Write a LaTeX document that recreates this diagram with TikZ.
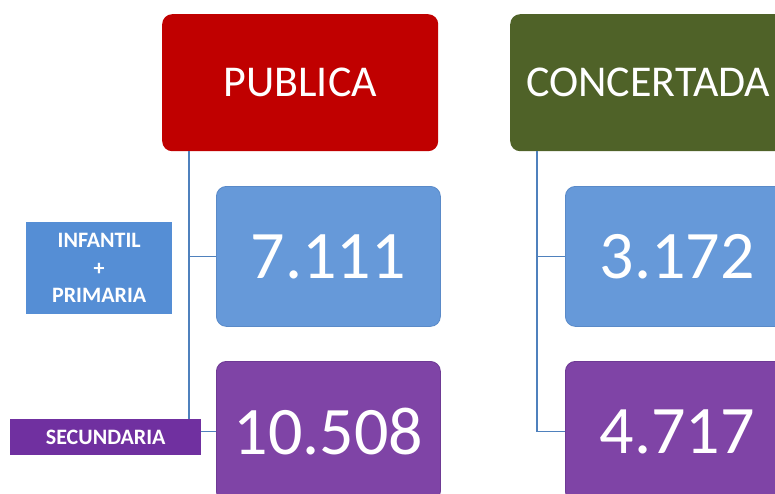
\documentclass[tikz,border=0pt]{standalone}
\usepackage{fontspec}
\setmainfont{Carlito}
\definecolor{pubred}{HTML}{C00000}
\definecolor{congreen}{HTML}{4F6228}
\definecolor{numblue}{HTML}{6699D9}
\definecolor{numblueb}{HTML}{5A8AC8}
\definecolor{numpurple}{HTML}{7F44A6}
\definecolor{numpurpleb}{HTML}{6E3A94}
\definecolor{labblue}{HTML}{558ED5}
\definecolor{labpurple}{HTML}{7030A0}
\definecolor{linkblue}{HTML}{4F81BD}
\tikzset{
  headbox/.style={rounded corners=10pt, minimum width=276pt, minimum height=137pt, inner sep=0pt,
    text=white, font=\fontsize{44}{50}\selectfont, anchor=north west},
  valbox/.style={rounded corners=10pt, minimum width=224pt, minimum height=140pt, inner sep=0pt,
    text=white, font=\fontsize{68}{76}\selectfont, anchor=north west, line width=0.8pt},
  labbox/.style={inner sep=0pt, text=white, font=\bfseries\fontsize{22}{27.5}\selectfont, align=center, anchor=north west},
  link/.style={draw=linkblue, line width=1.2pt}
}
\begin{document}
\begin{tikzpicture}[x=1pt,y=-1pt]
\useasboundingbox (0,0) rectangle (775,493);
% head boxes
\node[headbox, fill=pubred] (pub) at (162,14) {PUBLICA};
\node[headbox, fill=congreen] (con) at (510,14) {CONCERTADA};
% value boxes
\node[valbox, fill=numblue, draw=numblueb] (pinf) at (216,186) {7.111};
\node[valbox, fill=numpurple, draw=numpurpleb] (psec) at (216,361) {10.508};
\node[valbox, fill=numblue, draw=numblueb] (cinf) at (565,186) {3.172};
\node[valbox, fill=numpurple, draw=numpurpleb] (csec) at (565,361) {4.717};
% connectors
\coordinate (pt) at (189,151);
\coordinate (ct) at (537,151);
\draw[link] (pt) |- (psec.west);
\draw[link] (pt |- pinf.west) -- (pinf.west);
\draw[link] (ct) |- (csec.west);
\draw[link] (ct |- cinf.west) -- (cinf.west);
% labels
\node[labbox, fill=labblue, minimum width=146pt, minimum height=92pt] (linf) at (26,222) {INFANTIL\\+\\PRIMARIA};
\node[labbox, fill=labpurple, minimum width=191pt, minimum height=36pt] (lsec) at (10,419) {SECUNDARIA};
\end{tikzpicture}
\end{document}
